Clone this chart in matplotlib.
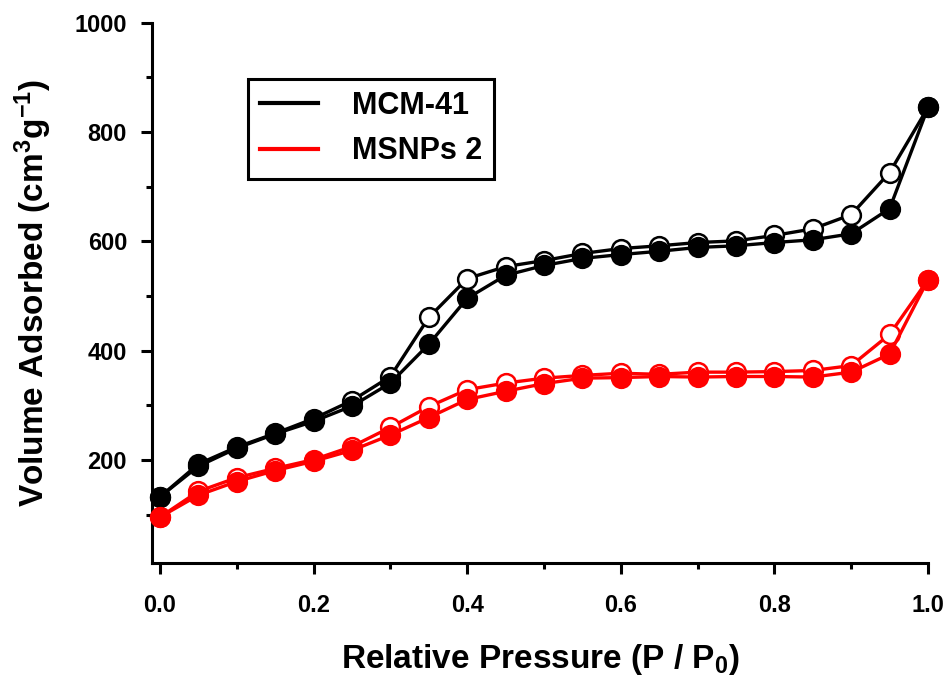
import matplotlib
matplotlib.use("Agg")
from matplotlib import pyplot as plt
from matplotlib.lines import Line2D
from matplotlib.ticker import MultipleLocator, FormatStrFormatter

plt.rcParams['font.family'] = ['Liberation Sans', 'DejaVu Sans']
plt.rcParams['font.weight'] = 'bold'
plt.rcParams['mathtext.default'] = 'regular'

# relative pressure steps
pressure = [0.0, 0.05, 0.1, 0.15, 0.2, 0.25, 0.3, 0.35, 0.4, 0.45, 0.5,
            0.55, 0.6, 0.65, 0.7, 0.75, 0.8, 0.85, 0.9, 0.95, 1.0]

# MCM-41, adsorption (filled) and desorption (open)
mcm_ads = [133, 189, 222, 248, 271, 299, 341, 412, 496, 538, 556,
           569, 576, 582, 589, 592, 598, 603, 614, 660, 845]
mcm_des = [133, 193, 224, 249, 276, 309, 353, 461, 532, 554, 565,
           578, 587, 592, 598, 601, 611, 623, 649, 726, 845]

# MSNPs 2
msn_ads = [96, 136, 161, 181, 198, 218, 246, 278, 311, 326, 340,
           350, 351, 353, 352, 353, 353, 352, 361, 394, 530]
msn_des = [96, 143, 168, 185, 201, 225, 260, 298, 329, 341, 350,
           355, 359, 357, 361, 361, 362, 364, 373, 430, 530]

series = [("MCM-41", "black", mcm_ads, mcm_des),
          ("MSNPs 2", "#ff0000", msn_ads, msn_des)]

fig = plt.figure(figsize=(9.49, 6.77), dpi=100)
ax = fig.add_axes([0.1602, 0.1684, 0.8177, 0.7981])

for name, col, ads, des in series:
    ax.plot(pressure, des, color=col, lw=2.4, marker='o', ms=13.5,
            mfc='white', mec=col, mew=1.8, zorder=2, clip_on=False)
    ax.plot(pressure, ads, color=col, lw=2.4, marker='o', ms=13.5,
            mfc=col, mec=col, mew=1.8, zorder=3, clip_on=False)

ax.set_xlim(-0.0104, 1.0)
ax.set_ylim(12, 1000)
ax.xaxis.set_major_locator(MultipleLocator(0.2))
ax.xaxis.set_minor_locator(MultipleLocator(0.1))
ax.yaxis.set_major_locator(MultipleLocator(200))
ax.yaxis.set_minor_locator(MultipleLocator(100))
ax.xaxis.set_major_formatter(FormatStrFormatter('%.1f'))

for side in ['top', 'right']:
    ax.spines[side].set_visible(False)
for side in ['left', 'bottom']:
    ax.spines[side].set_linewidth(2.2)

ax.tick_params(which='major', direction='out', length=8, width=2.2,
               labelsize=17, pad=14)
ax.tick_params(which='minor', direction='out', length=4.5, width=2.2)
ax.tick_params(axis='y', which='major', pad=10)

ax.set_xlabel('Relative Pressure (P / P$_0$)', fontsize=24, fontweight='bold',
              labelpad=18)
ax.set_ylabel('Volume Adsorbed (cm$^3$g$^{-1}$)', fontsize=24,
              fontweight='bold', labelpad=15)

handles = [Line2D([], [], color=c, lw=3) for _, c, _, _ in series]
leg = ax.legend(handles, [s[0] for s in series], loc='upper left',
                bbox_to_anchor=(0.1237, 0.896), borderaxespad=0,
                fancybox=False, edgecolor='black', framealpha=1,
                prop={'size': 22, 'weight': 'bold'}, handlelength=1.9,
                labelspacing=0.5, borderpad=0.4, handletextpad=1.1)
leg.get_frame().set_linewidth(2.2)

fig.savefig('out.png', dpi=100)
